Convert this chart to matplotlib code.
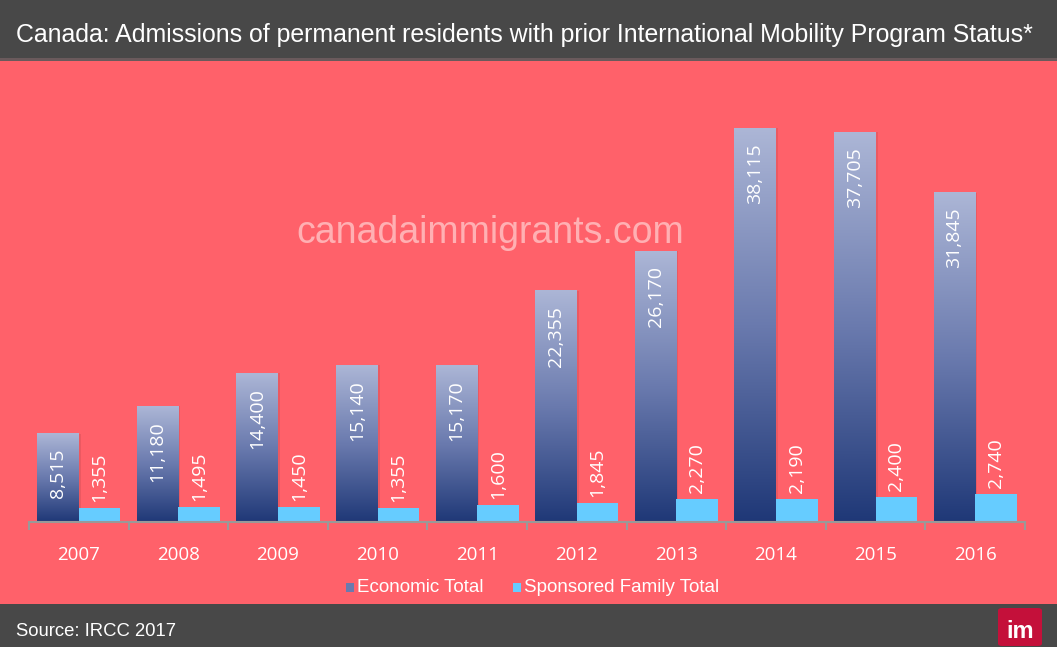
import numpy as np
import matplotlib.pyplot as plt
from matplotlib.colors import LinearSegmentedColormap
from matplotlib.patches import Rectangle, FancyBboxPatch

years = ['2007', '2008', '2009', '2010', '2011', '2012', '2013', '2014', '2015', '2016']
economic = [8515, 11180, 14400, 15140, 15170, 22355, 26170, 38115, 37705, 31845]
sponsored = [1355, 1495, 1450, 1355, 1600, 1845, 2270, 2190, 2400, 2740]

title = 'Canada: Admissions of permanent residents with prior International Mobility Program Status*'
source = 'Source: IRCC 2017'
watermark = 'canadaimmigrants.com'

W, H = 1059, 649
RED = '#ff616a'
DARK = '#484848'
LIGHT_BLUE = '#66ccff'
econ_cmap = LinearSegmentedColormap.from_list('econ', ['#1f3877', '#6a7aae', '#acb6d6'])

fig = plt.figure(figsize=(W / 100, H / 100), dpi=100, facecolor='white')


def px_rect(x0, y0, x1, y1, color, **kw):
    """Adds a rectangle given in pixel coordinates (y from top)."""
    fig.patches.append(Rectangle((x0 / W, 1 - y1 / H), (x1 - x0) / W, (y1 - y0) / H,
                                 transform=fig.transFigure, facecolor=color,
                                 edgecolor='none', zorder=0, **kw))


# background bands
px_rect(0, 0, 1057, 60, DARK)
px_rect(0, 58, 1057, 61, '#6a5a5c')
px_rect(0, 61, 1057, 604, RED)
px_rect(0, 604, 1057, 647, DARK)

fig.text(16 / W, 1 - 35 / H, title, color='white', fontsize=17.9,
         family='Liberation Sans', va='center', ha='left')
fig.text(16 / W, 1 - 631 / H, source, color='white', fontsize=13.3,
         family='Liberation Sans', va='center', ha='left')
fig.text(490 / W, 1 - 233 / H, watermark, color='#ffb0b3', fontsize=27,
         family='Liberation Sans', va='center', ha='center')

# logo
fig.patches.append(FancyBboxPatch((998 / W, 1 - 646 / H), 44 / W, 38 / H,
                                  boxstyle='round,pad=0,rounding_size=0.004',
                                  transform=fig.transFigure, facecolor='#c4103a',
                                  edgecolor='none', zorder=1))
fig.text(1020 / W, 1 - 631 / H, 'im', color='white', fontsize=17, fontweight='bold',
         family='Liberation Sans', va='center', ha='center', zorder=2)

# chart axes
ax = fig.add_axes([29 / W, 1 - 522 / H, 996 / W, 462 / H])
ax.set_zorder(5)
ax.set_facecolor('none')
ymax = 462 / (394 / 38115)

bw = 0.417
x = np.arange(len(years))
grad = np.linspace(0, 1, 256).reshape(-1, 1)
for i, (e, s) in enumerate(zip(economic, sponsored)):
    x0 = x[i] + 0.083
    # soft shadow
    ax.add_patch(Rectangle((x0 + 0.02, 0), bw, e, facecolor='#000000', alpha=0.08,
                           edgecolor='none', zorder=1))
    ax.imshow(grad, cmap=econ_cmap, origin='lower', aspect='auto',
              extent=[x0, x0 + bw, 0, e], zorder=2)
    ax.add_patch(Rectangle((x0 + bw, 0), bw, s, facecolor=LIGHT_BLUE,
                           edgecolor='none', zorder=2))
    ax.text(x0 + bw / 2, e - 15 * ymax / 462, f'{e:,}', rotation=90, color='white',
            fontsize=14, family='Open Sans', ha='center', va='top', zorder=3)
    ax.text(x0 + 1.5 * bw, s + 6 * ymax / 462, f'{s:,}', rotation=90, color='white',
            fontsize=14, family='Open Sans', ha='center', va='bottom', zorder=3)

ax.set_xlim(0, len(years))
ax.set_ylim(0, ymax)
ax.set_xticks(np.arange(len(years) + 1))
ax.set_xticklabels([])
ax.set_xticks(x + 0.5, minor=True)
ax.set_xticklabels(years, minor=True, color='white', fontsize=13.5, family='Open Sans')
ax.tick_params(axis='x', which='major', length=6, color='#999999', width=1.5, direction='out')
ax.tick_params(axis='x', which='minor', length=0, pad=17)
ax.set_yticks([])
for side in ['top', 'right', 'left']:
    ax.spines[side].set_visible(False)
ax.spines['bottom'].set_color('#999999')
ax.spines['bottom'].set_linewidth(1.5)

# legend
leg_items = [('Economic Total', 346, econ_cmap(0.5)), ('Sponsored Family Total', 513, LIGHT_BLUE)]
for label, lx, col in leg_items:
    fig.patches.append(Rectangle((lx / W, 1 - 592 / H), 8 / W, 9 / H,
                                 transform=fig.transFigure, facecolor=col,
                                 edgecolor='none', zorder=1))
    fig.text((lx + 11) / W, 1 - 588 / H, label, color='white', fontsize=13.5,
             family='Liberation Sans', va='center', ha='left')

fig.savefig('out.png', dpi=100, facecolor='white')
